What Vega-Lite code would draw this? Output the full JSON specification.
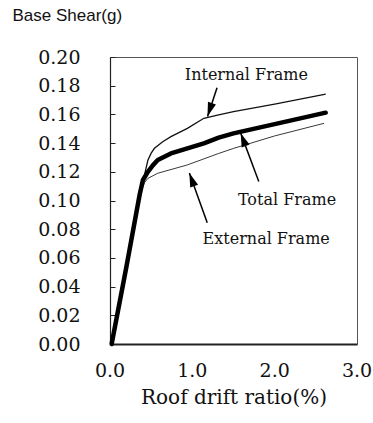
{
  "$schema": "https://vega.github.io/schema/vega-lite/v6.json",
  "autosize": {"type": "none"},
  "padding": {"left": 110, "top": 57, "right": 16, "bottom": 79},
  "width": 247,
  "height": 287,
  "background": "white",
  "config": {
    "view": {"stroke": "#555", "strokeWidth": 1},
    "axis": {"grid": false, "labelColor": "#111", "titleColor": "#111", "domainColor": "#222", "labelFlush": false, "labelOverlap": false}
  },
  "datasets": {
    "curves": [
      {"series": "Internal", "x": 0.02, "y": 0.0},
      {"series": "Internal", "x": 0.2, "y": 0.054},
      {"series": "Internal", "x": 0.36, "y": 0.104},
      {"series": "Internal", "x": 0.42, "y": 0.118},
      {"series": "Internal", "x": 0.46, "y": 0.128},
      {"series": "Internal", "x": 0.5, "y": 0.133},
      {"series": "Internal", "x": 0.54, "y": 0.1364},
      {"series": "Internal", "x": 0.64, "y": 0.141},
      {"series": "Internal", "x": 0.74, "y": 0.1445},
      {"series": "Internal", "x": 0.94, "y": 0.1503},
      {"series": "Internal", "x": 1.14, "y": 0.1573},
      {"series": "Internal", "x": 1.32, "y": 0.1596},
      {"series": "Internal", "x": 1.5, "y": 0.162},
      {"series": "Internal", "x": 2.0, "y": 0.1672},
      {"series": "Internal", "x": 2.62, "y": 0.1742},
      {"series": "Total", "x": 0.02, "y": 0.0},
      {"series": "Total", "x": 0.2, "y": 0.054},
      {"series": "Total", "x": 0.36, "y": 0.104},
      {"series": "Total", "x": 0.4, "y": 0.1143},
      {"series": "Total", "x": 0.46, "y": 0.12},
      {"series": "Total", "x": 0.52, "y": 0.1245},
      {"series": "Total", "x": 0.58, "y": 0.1282},
      {"series": "Total", "x": 0.74, "y": 0.1328},
      {"series": "Total", "x": 0.94, "y": 0.1363},
      {"series": "Total", "x": 1.14, "y": 0.1398},
      {"series": "Total", "x": 1.32, "y": 0.1438},
      {"series": "Total", "x": 1.5, "y": 0.1468},
      {"series": "Total", "x": 2.0, "y": 0.1532},
      {"series": "Total", "x": 2.62, "y": 0.1612},
      {"series": "External", "x": 0.02, "y": 0.0},
      {"series": "External", "x": 0.2, "y": 0.054},
      {"series": "External", "x": 0.36, "y": 0.104},
      {"series": "External", "x": 0.42, "y": 0.1125},
      {"series": "External", "x": 0.46, "y": 0.1154},
      {"series": "External", "x": 0.58, "y": 0.119},
      {"series": "External", "x": 0.94, "y": 0.1248},
      {"series": "External", "x": 1.32, "y": 0.1328},
      {"series": "External", "x": 1.5, "y": 0.1363},
      {"series": "External", "x": 2.0, "y": 0.145},
      {"series": "External", "x": 2.6, "y": 0.1538}
    ],
    "labels": [
      {"label": "Internal Frame", "x": 1.657, "y": 0.1877},
      {"label": "Total Frame", "x": 2.15, "y": 0.1006},
      {"label": "External Frame", "x": 1.897, "y": 0.0732}
    ],
    "xticks": [
      {"x": 0, "y": 0},
      {"x": 1, "y": 0},
      {"x": 2, "y": 0},
      {"x": 3, "y": 0}
    ],
    "arrows": [
      {"arrow": "Internal", "x": 1.3, "y": 0.1786, "x2": 1.185, "y2": 0.1586},
      {"arrow": "Total", "x": 1.807, "y": 0.1133, "x2": 1.587, "y2": 0.147},
      {"arrow": "External", "x": 1.181, "y": 0.0845, "x2": 0.964, "y2": 0.1192}
    ],
    "heads": [
      {"arrow": "Internal", "x": 1.211, "y": 0.1632},
      {"arrow": "Total", "x": 1.617, "y": 0.1425},
      {"arrow": "External", "x": 0.993, "y": 0.1146}
    ]
  },
  "encoding": {
    "x": {"field": "x", "type": "quantitative", "scale": {"domain": [0, 3], "nice": false, "zero": true},
      "axis": {"values": [0, 1, 2, 3], "labels": false, "ticks": false, "domainWidth": 2,
        "title": "Roof drift ratio(%)", "titleFont": "DejaVu Serif", "titleFontSize": 20,
        "titleFontWeight": "normal", "titleY": 53, "titleBaseline": "middle"}},
    "y": {"field": "y", "type": "quantitative", "scale": {"domain": [0, 0.2], "nice": false},
      "axis": {"values": [0, 0.02, 0.04, 0.06, 0.08, 0.1, 0.12, 0.14, 0.16, 0.18, 0.2],
        "labelOverlap": false, "labelFlush": false, "labelBound": false, "labelSeparation": 0,
        "format": ".2f", "tickSize": -5, "tickColor": "#222", "labelPadding": 35,
        "labelFont": "DejaVu Serif", "labelFontSize": 19, "domainWidth": 1.2,
        "title": "Base Shear(g)", "titleAngle": 0, "titleAlign": "left", "titleBaseline": "middle",
        "titleX": -98, "titleY": -42, "titleFont": "Liberation Sans", "titleFontSize": 17,
        "titleFontWeight": "normal"}}
  },
  "layer": [
    {
      "data": {"name": "curves"},
      "transform": [{"filter": "datum.series === 'Internal'"}],
      "mark": {"type": "line", "color": "#111", "strokeWidth": 1.3}
    },
    {
      "data": {"name": "curves"},
      "transform": [{"filter": "datum.series === 'External'"}],
      "mark": {"type": "line", "color": "#222", "strokeWidth": 0.9}
    },
    {
      "data": {"name": "curves"},
      "transform": [{"filter": "datum.series === 'Total'"}],
      "mark": {"type": "line", "color": "#000", "strokeWidth": 4.5, "strokeJoin": "round", "strokeCap": "round"}
    },
    {
      "data": {"name": "arrows"},
      "mark": {"type": "rule", "color": "#000", "strokeWidth": 1.5},
      "encoding": {
        "x2": {"field": "x2"},
        "y2": {"field": "y2"}
      }
    },
    {
      "data": {"name": "heads"},
      "transform": [{"filter": "datum.arrow === 'Internal'"}],
      "mark": {"type": "point", "shape": "M0,-1L-0.6,1L0.6,1Z", "filled": true, "color": "#000", "size": 196, "angle": 198.7, "opacity": 1}
    },
    {
      "data": {"name": "heads"},
      "transform": [{"filter": "datum.arrow === 'Total'"}],
      "mark": {"type": "point", "shape": "M0,-1L-0.6,1L0.6,1Z", "filled": true, "color": "#000", "size": 196, "angle": 339.3, "opacity": 1}
    },
    {
      "data": {"name": "heads"},
      "transform": [{"filter": "datum.arrow === 'External'"}],
      "mark": {"type": "point", "shape": "M0,-1L-0.6,1L0.6,1Z", "filled": true, "color": "#000", "size": 196, "angle": 340.1, "opacity": 1}
    },
    {
      "data": {"name": "labels"},
      "mark": {"type": "text", "font": "DejaVu Serif", "fontSize": 16, "color": "#111", "align": "center", "baseline": "middle"},
      "encoding": {
        "text": {"field": "label"}
      }
    },
    {
      "data": {"name": "xticks"},
      "mark": {"type": "text", "font": "DejaVu Serif", "fontSize": 19, "color": "#111", "align": "center", "baseline": "middle", "dy": 27, "clip": false},
      "encoding": {
        "text": {"field": "x", "type": "quantitative", "format": ".1f"}
      }
    }
  ]
}
